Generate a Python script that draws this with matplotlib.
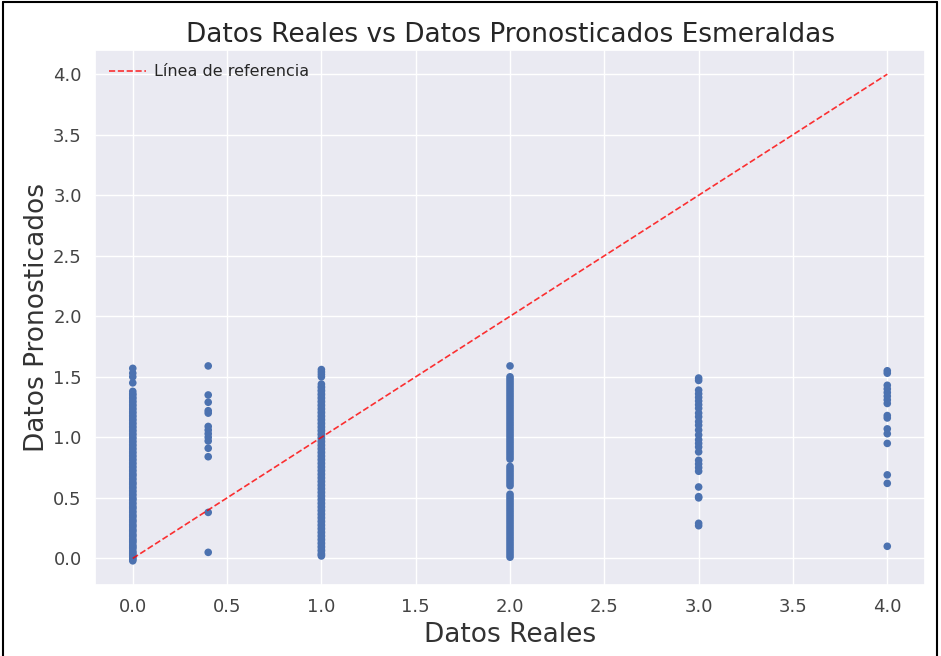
import matplotlib
matplotlib.use('Agg')
import matplotlib.pyplot as plt
import seaborn as sns
from matplotlib.lines import Line2D

sns.set_theme(style='darkgrid')

# valores pronosticados por cada valor real
real_0 = [-0.02, -0.01, 0.0, 0.01, 0.02, 0.03, 0.04, 0.05, 0.06, 0.08, 0.09, 0.10,
          0.11, 0.13, 0.14, 0.15, 0.16, 0.18, 0.19, 0.20, 0.22, 0.23, 0.24, 0.26,
          0.27, 0.28, 0.30, 0.31, 0.32, 0.34, 0.35, 0.36, 0.38, 0.39, 0.41, 0.42,
          0.43, 0.45, 0.46, 0.48, 0.49, 0.50, 0.52, 0.53, 0.55, 0.56, 0.58, 0.59,
          0.61, 0.62, 0.63, 0.65, 0.66, 0.68, 0.69, 0.70, 0.72, 0.73, 0.75, 0.76,
          0.78, 0.79, 0.81, 0.82, 0.84, 0.85, 0.87, 0.88, 0.90, 0.91, 0.93, 0.94,
          0.96, 0.97, 0.99, 1.00, 1.02, 1.03, 1.05, 1.06, 1.08, 1.09, 1.11, 1.12,
          1.14, 1.15, 1.17, 1.18, 1.20, 1.21, 1.23, 1.24, 1.26, 1.27, 1.29, 1.30,
          1.32, 1.33, 1.35, 1.36, 1.38, 1.45, 1.50, 1.53, 1.57]
real_04 = [1.59, 1.35, 1.29, 1.22, 1.20, 1.09, 1.06, 1.03, 1.00, 0.97, 0.91, 0.84,
           0.38, 0.05]
real_1 = [0.02, 0.03, 0.04, 0.06, 0.07, 0.09, 0.10, 0.12, 0.13, 0.15, 0.16, 0.18,
          0.19, 0.21, 0.22, 0.24, 0.25, 0.27, 0.28, 0.30, 0.31, 0.33, 0.34, 0.36,
          0.37, 0.39, 0.40, 0.42, 0.43, 0.45, 0.46, 0.48, 0.49, 0.51, 0.52, 0.54,
          0.55, 0.57, 0.58, 0.60, 0.61, 0.63, 0.64, 0.66, 0.67, 0.69, 0.70, 0.72,
          0.73, 0.75, 0.76, 0.78, 0.79, 0.81, 0.82, 0.84, 0.85, 0.87, 0.88, 0.90,
          0.91, 0.93, 0.94, 0.96, 0.97, 0.99, 1.00, 1.02, 1.03, 1.05, 1.06, 1.08,
          1.09, 1.11, 1.12, 1.14, 1.15, 1.17, 1.18, 1.20, 1.21, 1.23, 1.24, 1.26,
          1.27, 1.29, 1.30, 1.32, 1.33, 1.35, 1.36, 1.38, 1.39, 1.41, 1.42, 1.44,
          1.50, 1.52, 1.54, 1.56]
real_2 = [0.01, 0.03, 0.05, 0.07, 0.09, 0.11, 0.13, 0.15, 0.17, 0.19, 0.21, 0.23,
          0.25, 0.27, 0.29, 0.31, 0.33, 0.35, 0.37, 0.39, 0.41, 0.43, 0.45, 0.47,
          0.49, 0.51, 0.53, 0.60, 0.62, 0.64, 0.66, 0.68, 0.70, 0.72, 0.74, 0.76,
          0.82, 0.84, 0.86, 0.88, 0.90, 0.92, 0.94, 0.96, 0.98, 1.00, 1.02, 1.04,
          1.06, 1.08, 1.10, 1.12, 1.14, 1.16, 1.18, 1.20, 1.22, 1.24, 1.26, 1.28,
          1.30, 1.32, 1.34, 1.36, 1.38, 1.40, 1.42, 1.44, 1.46, 1.48, 1.50, 1.59]
real_3 = [1.49, 1.47, 1.39, 1.36, 1.33, 1.30, 1.27, 1.24, 1.20, 1.17, 1.13, 1.10,
          1.06, 1.02, 0.98, 0.95, 0.92, 0.88, 0.81, 0.78, 0.75, 0.72, 0.59, 0.51,
          0.50, 0.29, 0.27]
real_4 = [1.55, 1.53, 1.43, 1.40, 1.37, 1.34, 1.31, 1.28, 1.18, 1.16, 1.07, 1.03,
          0.95, 0.69, 0.62, 0.10]

x_vals = [0.0] * len(real_0) + [0.4] * len(real_04) + [1.0] * len(real_1) + \
         [2.0] * len(real_2) + [3.0] * len(real_3) + [4.0] * len(real_4)
y_vals = real_0 + real_04 + real_1 + real_2 + real_3 + real_4

fig = plt.figure(figsize=(9.41, 6.56), dpi=100)
ax = fig.add_axes([0.101, 0.108, 0.882, 0.816])

ax.scatter(x_vals, y_vals, s=30, color='#4c72b0', edgecolors='none', zorder=2)
ax.plot([0, 4], [0, 4], '--', color='red', alpha=0.8, lw=1.2, label='Línea de referencia')

ax.set_xticks([0, 0.5, 1, 1.5, 2, 2.5, 3, 3.5, 4])
ax.set_yticks([0, 0.5, 1, 1.5, 2, 2.5, 3, 3.5, 4])
ax.tick_params(labelsize=13, colors='#444444')
ax.set_title('Datos Reales vs Datos Pronosticados Esmeraldas', fontsize=19, color='#262626')
ax.set_xlabel('Datos Reales', fontsize=19, color='#333333')
ax.set_ylabel('Datos Pronosticados', fontsize=19, color='#333333', labelpad=2)
ax.legend(loc='upper left', fontsize=11.5, frameon=False, handlelength=2.3,
          handletextpad=0.5)

# borde negro de la captura
for xs, ys in [([0.003, 0.003], [0, 0.997]), ([0.003, 0.996], [0.997, 0.997]),
               ([0.996, 0.996], [0, 0.997])]:
    fig.add_artist(Line2D(xs, ys, color='black', lw=1.5, transform=fig.transFigure))

fig.savefig('out.png', dpi=100)
